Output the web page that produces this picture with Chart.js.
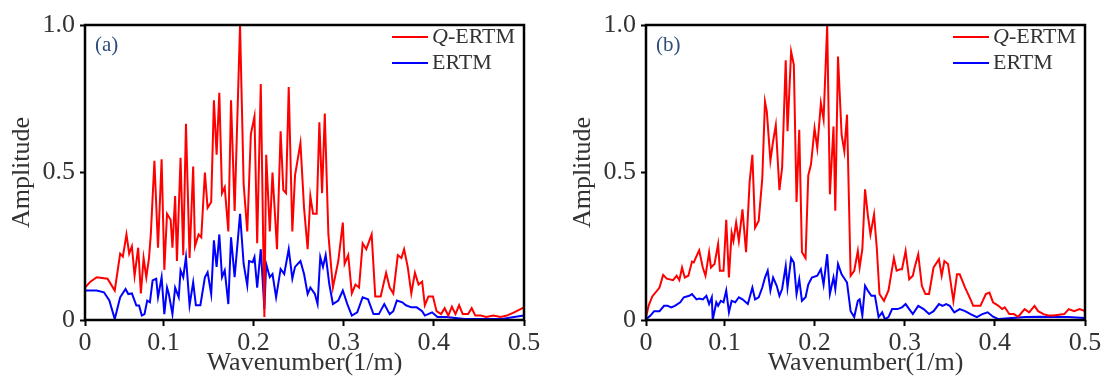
<!DOCTYPE html>
<html>
<head>
<meta charset="utf-8">
<title>Amplitude spectra</title>
<script src="https://cdn.jsdelivr.net/npm/chart.js@4"></script>
<style>
  body { margin: 0; background: #fff; width: 1104px; height: 379px; position: relative; overflow: hidden; }
  .panel { position: absolute; top: 0; height: 379px; }
</style>
</head>
<body>
<div class="panel" style="left:0;width:550px"><canvas id="chartA" width="550" height="379"></canvas></div>
<div class="panel" style="left:561px;width:543px"><canvas id="chartB" width="543" height="379"></canvas></div>
<script>
// Axis ticks (the left edge of the wavenumber axis is labelled 0)
const xTickValues = [0.013, 0.1, 0.2, 0.3, 0.4, 0.5];
const xTickLabels = ['0', '0.1', '0.2', '0.3', '0.4', '0.5'];
const yTickValues = [0, 0.5, 1];
const yTickLabels = ['0', '0.5', '1.0'];
const seriesNames = ['Q-ERTM', 'ERTM'];
const panelTags = ['(a)', '(b)'];

// Panel (a) Q-ERTM
const kQertmA = [0.013,0.019,0.026,0.038,0.046,0.052,0.055,0.059,0.062,0.065,
  0.068,0.072,0.075,0.078,0.081,0.084,0.086,0.090,0.094,0.098,
  0.101,0.104,0.108,0.110,0.113,0.115,0.119,0.122,0.125,0.129,
  0.133,0.135,0.139,0.142,0.146,0.149,0.153,0.156,0.159,0.162,
  0.165,0.168,0.172,0.175,0.179,0.185,0.189,0.193,0.197,0.201,
  0.204,0.208,0.212,0.214,0.218,0.221,0.226,0.230,0.233,0.236,
  0.239,0.243,0.246,0.252,0.256,0.260,0.263,0.266,0.270,0.273,
  0.276,0.279,0.283,0.288,0.294,0.299,0.301,0.305,0.309,0.313,
  0.317,0.321,0.325,0.331,0.335,0.341,0.347,0.351,0.355,0.360,
  0.364,0.367,0.371,0.375,0.379,0.383,0.387,0.390,0.394,0.399,
  0.403,0.408,0.412,0.416,0.420,0.424,0.428,0.432,0.438,0.442,
  0.446,0.452,0.458,0.466,0.474,0.481,0.489,0.500];
const ampQertmA = [0.11,0.13,0.145,0.14,0.10,0.225,0.215,0.29,0.225,0.25,
  0.15,0.245,0.09,0.21,0.145,0.21,0.29,0.54,0.245,0.545,
  0.17,0.36,0.34,0.245,0.42,0.20,0.55,0.22,0.665,0.21,
  0.52,0.25,0.29,0.28,0.50,0.38,0.40,0.745,0.56,0.77,
  0.43,0.45,0.30,0.745,0.37,1.0,0.46,0.30,0.63,0.69,
  0.26,0.80,0.01,0.56,0.30,0.50,0.24,0.64,0.44,0.43,
  0.79,0.30,0.49,0.60,0.38,0.24,0.42,0.36,0.36,0.67,
  0.43,0.70,0.29,0.11,0.20,0.33,0.19,0.22,0.09,0.12,
  0.11,0.26,0.24,0.29,0.08,0.08,0.16,0.11,0.09,0.22,
  0.21,0.24,0.18,0.09,0.16,0.12,0.13,0.05,0.08,0.08,
  0.03,0.02,0.04,0.015,0.045,0.02,0.05,0.02,0.02,0.04,
  0.015,0.015,0.01,0.015,0.01,0.015,0.026,0.043];

// Panel (a) ERTM
const kErtmA = [0.013,0.026,0.034,0.040,0.046,0.052,0.058,0.061,0.065,0.070,
  0.073,0.076,0.079,0.082,0.085,0.088,0.092,0.094,0.098,0.101,
  0.104,0.106,0.110,0.113,0.117,0.119,0.122,0.125,0.129,0.133,
  0.136,0.141,0.146,0.149,0.153,0.156,0.159,0.162,0.165,0.168,
  0.172,0.175,0.179,0.185,0.189,0.193,0.195,0.199,0.201,0.204,
  0.208,0.212,0.214,0.218,0.221,0.225,0.230,0.234,0.239,0.243,
  0.246,0.252,0.256,0.260,0.263,0.268,0.271,0.274,0.277,0.280,
  0.284,0.288,0.294,0.299,0.304,0.309,0.315,0.321,0.327,0.333,
  0.339,0.345,0.351,0.355,0.359,0.365,0.369,0.375,0.381,0.387,
  0.390,0.398,0.404,0.414,0.434,0.474,0.489,0.500];
const ampErtmA = [0.10,0.10,0.094,0.066,0.003,0.077,0.105,0.088,0.09,0.049,
  0.049,0.015,0.02,0.066,0.06,0.134,0.14,0.077,0.145,0.02,
  0.11,0.088,0.02,0.11,0.077,0.168,0.145,0.213,0.05,0.128,
  0.05,0.05,0.145,0.162,0.088,0.27,0.18,0.29,0.145,0.168,
  0.054,0.28,0.145,0.36,0.19,0.117,0.20,0.196,0.213,0.11,
  0.24,0.037,0.19,0.145,0.156,0.077,0.173,0.156,0.24,0.14,
  0.18,0.20,0.156,0.088,0.11,0.088,0.054,0.213,0.18,0.22,
  0.122,0.054,0.066,0.10,0.054,0.015,0.026,0.077,0.07,0.02,
  0.02,0.054,0.02,0.03,0.066,0.06,0.05,0.043,0.043,0.03,
  0.015,0.026,0.01,0.01,0.003,0.003,0.01,0.015];

// Panel (b) Q-ERTM
const kQertmB = [0.013,0.016,0.020,0.028,0.032,0.036,0.043,0.047,0.050,0.053,
  0.056,0.060,0.064,0.066,0.070,0.072,0.076,0.079,0.083,0.085,
  0.089,0.093,0.095,0.099,0.102,0.105,0.108,0.110,0.113,0.116,
  0.120,0.124,0.128,0.131,0.134,0.138,0.142,0.145,0.147,0.151,
  0.154,0.157,0.161,0.164,0.168,0.170,0.174,0.177,0.180,0.183,
  0.186,0.190,0.193,0.196,0.200,0.203,0.207,0.210,0.214,0.217,
  0.221,0.223,0.226,0.230,0.233,0.236,0.240,0.244,0.248,0.250,
  0.253,0.256,0.259,0.262,0.266,0.269,0.272,0.277,0.282,0.288,
  0.291,0.295,0.297,0.301,0.305,0.309,0.311,0.315,0.319,0.323,
  0.327,0.332,0.338,0.341,0.344,0.348,0.354,0.358,0.361,0.367,
  0.373,0.376,0.384,0.390,0.394,0.398,0.404,0.408,0.411,0.416,
  0.421,0.426,0.433,0.438,0.444,0.448,0.454,0.459,0.465,0.477,
  0.482,0.488,0.494,0.500];
const ampQertmB = [0.009,0.05,0.08,0.11,0.153,0.14,0.135,0.15,0.135,0.178,
  0.144,0.15,0.198,0.195,0.223,0.236,0.178,0.15,0.229,0.178,
  0.19,0.257,0.167,0.167,0.34,0.144,0.296,0.268,0.33,0.268,
  0.375,0.23,0.47,0.56,0.313,0.336,0.48,0.74,0.707,0.54,
  0.606,0.66,0.44,0.516,0.88,0.64,0.91,0.865,0.40,0.645,
  0.23,0.21,0.49,0.527,0.65,0.583,0.735,0.68,1.0,0.426,
  0.656,0.37,0.893,0.628,0.572,0.696,0.15,0.167,0.234,0.178,
  0.24,0.443,0.358,0.29,0.358,0.245,0.088,0.065,0.10,0.21,
  0.167,0.172,0.172,0.234,0.138,0.15,0.178,0.223,0.116,0.088,
  0.088,0.178,0.206,0.15,0.20,0.19,0.065,0.155,0.155,0.11,
  0.07,0.048,0.048,0.088,0.093,0.06,0.048,0.037,0.043,0.02,
  0.02,0.011,0.037,0.026,0.048,0.03,0.02,0.015,0.015,0.02,
  0.037,0.03,0.037,0.03];

// Panel (b) ERTM
const kErtmB = [0.013,0.018,0.022,0.028,0.033,0.037,0.041,0.045,0.051,0.055,
  0.061,0.064,0.069,0.072,0.076,0.080,0.083,0.086,0.087,0.091,
  0.093,0.096,0.099,0.102,0.105,0.108,0.112,0.116,0.120,0.126,
  0.131,0.134,0.138,0.142,0.145,0.148,0.151,0.154,0.158,0.161,
  0.164,0.168,0.170,0.174,0.177,0.180,0.183,0.186,0.190,0.193,
  0.197,0.203,0.207,0.210,0.214,0.217,0.221,0.223,0.226,0.230,
  0.236,0.240,0.244,0.248,0.250,0.253,0.256,0.259,0.263,0.267,
  0.271,0.275,0.278,0.282,0.286,0.292,0.297,0.301,0.305,0.309,
  0.315,0.321,0.327,0.332,0.338,0.342,0.346,0.350,0.355,0.361,
  0.367,0.373,0.380,0.386,0.392,0.398,0.404,0.419,0.434,0.450,
  0.465,0.481,0.500];
const ampErtmB = [0.003,0.015,0.03,0.03,0.048,0.048,0.043,0.048,0.06,0.077,
  0.082,0.088,0.07,0.073,0.07,0.082,0.054,0.077,0.0,0.06,
  0.048,0.065,0.06,0.10,0.026,0.065,0.06,0.077,0.07,0.054,
  0.11,0.07,0.077,0.11,0.144,0.167,0.10,0.144,0.116,0.082,
  0.105,0.183,0.11,0.21,0.195,0.088,0.138,0.065,0.077,0.12,
  0.144,0.15,0.172,0.12,0.223,0.088,0.144,0.105,0.19,0.155,
  0.127,0.03,0.01,0.065,0.07,0.015,0.116,0.10,0.082,0.082,
  0.01,0.026,0.003,0.01,0.037,0.037,0.043,0.054,0.037,0.02,
  0.048,0.037,0.02,0.03,0.054,0.048,0.054,0.048,0.026,0.037,
  0.03,0.02,0.01,0.02,0.026,0.011,0.003,0.007,0.01,0.011,
  0.01,0.01,0.007];

const RED = 'rgb(255,0,0)';
const BLUE = 'rgb(0,0,255)';
const TEXT = '#333';
const SERIF = '"Liberation Serif", "Times New Roman", serif';

function toPoints(xs, ys) {
  return xs.map((x, i) => ({ x: x, y: ys[i] }));
}

// Box frame, panel tag and an in-plot legend
const framePlugin = {
  id: 'framePlugin',
  afterDraw(chart, args, opts) {
    const { ctx, chartArea: a } = chart;
    ctx.save();
    ctx.strokeStyle = '#000';
    ctx.lineWidth = 2.5;
    ctx.strokeRect(a.left, a.top, a.right - a.left, a.bottom - a.top);

    ctx.textBaseline = 'middle';
    ctx.font = '21px ' + SERIF;
    ctx.fillStyle = '#2e4d7b';
    ctx.fillText(opts.tag, a.left + 10, a.top + 20);

    chart.data.datasets.forEach((ds, i) => {
      const y = a.top + 12 + i * 26;
      ctx.strokeStyle = ds.borderColor;
      ctx.lineWidth = 2;
      ctx.beginPath();
      ctx.moveTo(a.right - 132, y);
      ctx.lineTo(a.right - 96, y);
      ctx.stroke();
      let x = a.right - 92;
      let rest = ds.label;
      ctx.fillStyle = TEXT;
      if (rest.startsWith('Q-')) {
        ctx.font = 'italic 22px ' + SERIF;
        ctx.fillText('Q', x, y);
        x += ctx.measureText('Q').width;
        rest = rest.slice(1);
      }
      ctx.font = '22px ' + SERIF;
      ctx.fillText(rest, x, y);
    });
    ctx.restore();
  }
};

function makeChart(id, qPts, ePts, tag, padRight) {
  new Chart(document.getElementById(id), {
    type: 'line',
    data: {
      datasets: [
        { label: seriesNames[0], data: qPts, borderColor: RED, borderWidth: 2 },
        { label: seriesNames[1], data: ePts, borderColor: BLUE, borderWidth: 2 }
      ]
    },
    options: {
      responsive: false,
      animation: false,
      devicePixelRatio: 1,
      elements: { point: { radius: 0 }, line: { tension: 0 } },
      layout: { padding: { top: 25, right: padRight, bottom: 0, left: 0 } },
      plugins: {
        legend: { display: false },
        tooltip: { enabled: false },
        framePlugin: { tag: tag }
      },
      scales: {
        x: {
          type: 'linear',
          min: xTickValues[0],
          max: xTickValues[xTickValues.length - 1],
          afterBuildTicks: s => { s.ticks = xTickValues.map(v => ({ value: v })); },
          afterFit: s => { s.height = 59; },
          grid: { drawOnChartArea: false, drawTicks: true, tickLength: 6, tickWidth: 2, tickColor: '#000' },
          border: { display: false },
          ticks: {
            maxRotation: 0,
            padding: 2,
            color: TEXT,
            font: { family: SERIF, size: 26 },
            callback: (v, i) => xTickLabels[i]
          },
          title: {
            display: true,
            text: 'Wavenumber(1/m)',
            color: TEXT,
            font: { family: SERIF, size: 26, lineHeight: 1.2 },
            padding: { top: 0, bottom: 0 }
          }
        },
        y: {
          min: 0,
          max: 1,
          afterBuildTicks: s => { s.ticks = yTickValues.map(v => ({ value: v })); },
          afterFit: s => { s.width = 85; },
          grid: { drawOnChartArea: false, drawTicks: true, tickLength: 5, tickWidth: 2, tickColor: '#000' },
          border: { display: false },
          ticks: {
            padding: 5,
            color: TEXT,
            font: { family: SERIF, size: 26 },
            callback: (v, i) => yTickLabels[i]
          },
          title: {
            display: true,
            text: 'Amplitude',
            color: TEXT,
            font: { family: SERIF, size: 26, lineHeight: 1.2 },
            padding: { top: 7, bottom: 0 }
          }
        }
      }
    },
    plugins: [framePlugin]
  });
}

makeChart('chartA', toPoints(kQertmA, ampQertmA), toPoints(kErtmA, ampErtmA), panelTags[0], 26);
makeChart('chartB', toPoints(kQertmB, ampQertmB), toPoints(kErtmB, ampErtmB), panelTags[1], 19);
</script>
</body>
</html>
